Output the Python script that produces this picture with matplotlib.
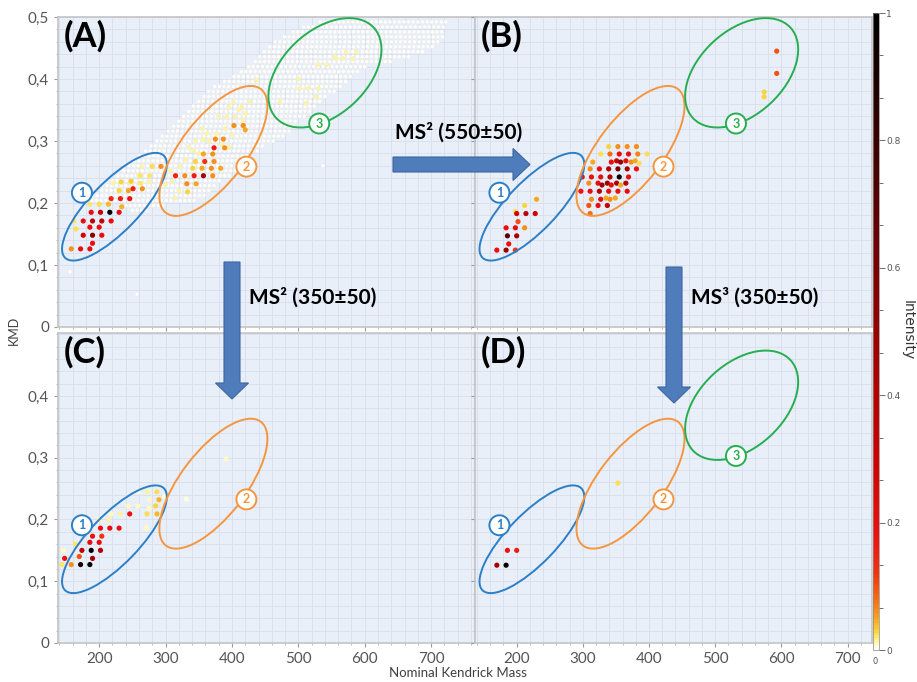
import numpy as np
import matplotlib
matplotlib.use("Agg")
import matplotlib.pyplot as plt
from matplotlib.colors import LinearSegmentedColormap
from matplotlib.patches import Ellipse, Circle, FancyArrow
from matplotlib.transforms import ScaledTranslation
from matplotlib.ticker import MultipleLocator, FixedLocator, FuncFormatter, AutoMinorLocator

# ---- data: (nominal Kendrick mass, KMD, intensity) ----

# panel A, white background cloud: rows of homologues (kmd, first mass, last mass), 7 Da apart
a_cloud_rows = [
    (0.188, 250, 277), (0.196, 240, 301), (0.204, 189, 345), (0.212, 197, 358),
    (0.220, 204, 368), (0.228, 212, 378), (0.236, 220, 387), (0.244, 228, 397),
    (0.252, 237, 406), (0.260, 245, 413), (0.268, 253, 421), (0.276, 261, 428),
    (0.284, 270, 438), (0.292, 278, 450), (0.300, 287, 467), (0.308, 295, 483),
    (0.316, 304, 489), (0.324, 312, 495), (0.332, 320, 500), (0.340, 327, 509),
    (0.348, 335, 518), (0.356, 342, 528), (0.364, 350, 537), (0.372, 358, 546),
    (0.380, 365, 556), (0.388, 374, 565), (0.396, 389, 575), (0.404, 403, 584),
    (0.412, 414, 594), (0.420, 425, 603), (0.428, 435, 640), (0.436, 442, 672),
    (0.444, 449, 687), (0.452, 457, 702), (0.460, 465, 714), (0.468, 479, 717),
    (0.476, 492, 721), (0.484, 508, 724), (0.492, 533, 728),
]
a_isolated = [(156, 0.089), (257, 0.053), (537, 0.260)]

a_pale = [
    (572, 0.444), (587, 0.444), (557, 0.433), (567, 0.433), (582, 0.433), (530, 0.423),
    (543, 0.423), (515, 0.385), (502, 0.385), (530, 0.385), (512, 0.361), (527, 0.371),
    (472, 0.363), (437, 0.398), (427, 0.363), (555, 0.436), (500, 0.400), (357, 0.302),
    (362, 0.312), (392, 0.339), (405, 0.339), (417, 0.334), (322, 0.259), (307, 0.253),
    (314, 0.208), (342, 0.285), (350, 0.280), (377, 0.312), (384, 0.294), (396, 0.290),
    (402, 0.363), (415, 0.355), (420, 0.345), (264, 0.259), (276, 0.234), (259, 0.245),
    (246, 0.232), (221, 0.232), (300, 0.230), (320, 0.220), (330, 0.270), (390, 0.320),
    (400, 0.310), (365, 0.300), (355, 0.320), (410, 0.350), (395, 0.355), (380, 0.340),
    (345, 0.300), (335, 0.290), (300, 0.245), (310, 0.235),
]

a_pts = [
    (158, 0.126, 0.06), (172, 0.126, 0.20), (186, 0.126, 0.20), (190, 0.135, 0.20),
    (176, 0.148, 0.30), (190, 0.148, 0.55), (204, 0.148, 0.20), (165, 0.158, 0.025),
    (186, 0.161, 0.20), (200, 0.161, 0.20), (162, 0.171, 0.02), (176, 0.171, 0.20),
    (190, 0.171, 0.35), (204, 0.171, 0.35), (218, 0.171, 0.20), (188, 0.185, 0.20),
    (202, 0.185, 0.35), (216, 0.185, 1.00), (230, 0.185, 0.20), (186, 0.198, 0.02),
    (200, 0.198, 0.025), (214, 0.198, 0.04), (234, 0.194, 0.045), (218, 0.207, 0.14),
    (232, 0.207, 0.16), (246, 0.207, 0.18), (230, 0.220, 0.03), (244, 0.220, 0.05),
    (251, 0.223, 0.16), (265, 0.223, 0.06), (233, 0.234, 0.03), (248, 0.235, 0.035),
    (262, 0.232, 0.02), (280, 0.259, 0.025), (293, 0.259, 0.06), (262, 0.244, 0.02),
    (276, 0.244, 0.02), (315, 0.244, 0.15), (329, 0.244, 0.06), (343, 0.244, 0.16),
    (357, 0.244, 0.45), (371, 0.244, 0.06), (332, 0.231, 0.06), (346, 0.231, 0.05),
    (333, 0.218, 0.03), (341, 0.256, 0.03), (355, 0.256, 0.05), (369, 0.256, 0.06),
    (383, 0.256, 0.05), (345, 0.267, 0.03), (359, 0.267, 0.12), (373, 0.267, 0.06),
    (357, 0.279, 0.05), (371, 0.279, 0.06), (373, 0.289, 0.16), (389, 0.289, 0.06),
    (375, 0.303, 0.06), (387, 0.303, 0.06), (403, 0.325, 0.06), (417, 0.325, 0.06),
    (420, 0.318, 0.05),
]

b_pts = [
    (170, 0.124, 0.20), (184, 0.124, 0.50), (198, 0.124, 0.12), (188, 0.134, 0.20),
    (186, 0.147, 0.70), (200, 0.147, 0.45), (184, 0.160, 0.20), (198, 0.160, 0.20),
    (212, 0.160, 0.06), (202, 0.170, 0.10), (198, 0.186, 0.025), (200, 0.183, 0.30),
    (214, 0.183, 0.35), (228, 0.183, 0.30), (212, 0.196, 0.03), (230, 0.206, 0.05),
    (339, 0.291, 0.03), (353, 0.291, 0.06), (367, 0.291, 0.06), (381, 0.291, 0.06),
    (327, 0.279, 0.025), (341, 0.279, 0.08), (355, 0.279, 0.20), (369, 0.279, 0.20),
    (383, 0.279, 0.07), (397, 0.279, 0.025), (315, 0.266, 0.05), (343, 0.266, 0.20),
    (351, 0.268, 0.30), (357, 0.266, 0.50), (365, 0.268, 0.20), (373, 0.266, 0.06),
    (379, 0.268, 0.05), (385, 0.264, 0.025), (311, 0.255, 0.06), (325, 0.255, 0.20),
    (339, 0.255, 0.40), (353, 0.255, 0.60), (367, 0.255, 0.45), (381, 0.255, 0.18),
    (299, 0.242, 0.18), (313, 0.242, 0.20), (327, 0.242, 0.20), (341, 0.242, 0.40),
    (355, 0.242, 1.00), (369, 0.242, 0.20), (309, 0.232, 0.06), (323, 0.232, 0.20),
    (329, 0.229, 0.45), (337, 0.232, 0.50), (343, 0.229, 0.20), (351, 0.232, 0.45),
    (357, 0.229, 0.05), (365, 0.232, 0.40), (297, 0.219, 0.18), (311, 0.219, 0.20),
    (325, 0.219, 0.40), (339, 0.219, 0.20), (353, 0.219, 0.20), (367, 0.219, 0.20),
    (313, 0.206, 0.06), (327, 0.206, 0.20), (335, 0.208, 0.05), (341, 0.206, 0.06),
    (349, 0.208, 0.05), (309, 0.196, 0.10), (323, 0.196, 0.20), (337, 0.196, 0.35),
    (311, 0.183, 0.08), (593, 0.445, 0.10), (593, 0.409, 0.10), (574, 0.379, 0.03),
    (574, 0.371, 0.03),
]

c_pts = [
    (144, 0.127, 0.02), (158, 0.127, 0.06), (172, 0.127, 0.90), (186, 0.127, 1.00),
    (148, 0.137, 0.18), (170, 0.140, 0.10), (190, 0.137, 0.45), (146, 0.150, 0.008),
    (174, 0.150, 0.35), (188, 0.150, 1.00), (202, 0.150, 0.40), (164, 0.160, 0.02),
    (186, 0.163, 0.20), (200, 0.163, 0.20), (190, 0.173, 0.18), (204, 0.173, 0.12),
    (202, 0.186, 0.18), (216, 0.186, 0.20), (230, 0.186, 0.20), (271, 0.186, 0.01),
    (200, 0.199, 0.015), (214, 0.199, 0.012), (218, 0.209, 0.008), (232, 0.209, 0.012),
    (246, 0.209, 0.18), (272, 0.209, 0.025), (287, 0.209, 0.04), (244, 0.222, 0.008),
    (258, 0.222, 0.01), (275, 0.218, 0.008), (285, 0.222, 0.03), (276, 0.232, 0.008),
    (290, 0.232, 0.045), (259, 0.245, 0.006), (273, 0.245, 0.015), (287, 0.245, 0.025),
    (298, 0.237, 0.006), (331, 0.233, 0.006), (391, 0.298, 0.008),
]

d_pts = [(186, 0.150, 0.18), (200, 0.150, 0.16), (170, 0.126, 0.45), (184, 0.126, 1.00),
         (353, 0.259, 0.025)]

# ellipse centres per panel (mass, kmd)
ell_top = [(223, 0.194), (372, 0.284), (540, 0.410)]
ell_bottom = [(223, 0.168), (372, 0.258), (540, 0.385)]
ell_colors = ["#2c7fc6", "#f5963f", "#26ae50"]
ell_shape = [(71, 24.6, 46), (78, 32.5, 52.5), (66.5, 42, 42.8)]   # semi-axes px, angle
badge_off = [(-32.5, 14), (33, -15.7), (-5.7, -50.7)]

cmap = LinearSegmentedColormap.from_list("inten", [
    (0.0, "#ffffff"), (0.006, "#fffbd0"), (0.015, "#fff08a"), (0.03, "#f9d030"),
    (0.05, "#f7a020"), (0.08, "#f56a10"), (0.12, "#f33010"), (0.18, "#ee1010"),
    (0.3, "#d00000"), (0.5, "#990000"), (0.7, "#5a0000"), (0.85, "#2a0000"), (1.0, "#000000")])

plt.rcParams["font.family"] = ["Lato", "DejaVu Sans"]

W, H = 917, 682
fig = plt.figure(figsize=(W / 100, H / 100), dpi=100)


def box(l, t, r, b):
    return [l / W, 1 - b / H, (r - l) / W, (b - t) / H]


axA = fig.add_axes(box(58, 17, 475, 327))
axB = fig.add_axes(box(475, 17, 872, 327))
axC = fig.add_axes(box(58, 333, 475, 643))
axD = fig.add_axes(box(475, 333, 872, 643))

kfmt = FuncFormatter(lambda v, p: "0" if abs(v) < 1e-9 else f"{v:.1f}".replace(".", ","))


def style(ax, xlim, ylim, yticks, xlab, ylab):
    ax.set_facecolor("#e9eff9")
    ax.set_xlim(*xlim)
    ax.set_ylim(*ylim)
    ax.xaxis.set_major_locator(MultipleLocator(100))
    ax.xaxis.set_minor_locator(MultipleLocator(20))
    ax.yaxis.set_major_locator(FixedLocator(yticks))
    ax.yaxis.set_minor_locator(MultipleLocator(0.02))
    ax.yaxis.set_major_formatter(kfmt)
    ax.set_axisbelow(True)
    ax.grid(True, which="both", color="#d7dfee", lw=0.6)
    for s in ax.spines.values():
        s.set_color("#c4c4c4")
        s.set_linewidth(1.2)
    ax.tick_params(which="major", length=3, color="#9a9a9a", labelsize=11,
                   labelcolor="#555555", labelbottom=xlab, labelleft=ylab)
    ax.tick_params(which="minor", length=1.5, color="#b0b0b0")


style(axA, (138, 766), (0, 0.5), [0, 0.1, 0.2, 0.3, 0.4, 0.5], False, True)
style(axB, (137, 737), (0, 0.5), [0, 0.1, 0.2, 0.3, 0.4, 0.5], False, False)
style(axC, (138, 766), (0, 0.502), [0, 0.1, 0.2, 0.3, 0.4], True, True)
style(axD, (137, 737), (0, 0.502), [0, 0.1, 0.2, 0.3, 0.4], True, False)

# background cloud in panel A
cx, cy = [], []
for k, lo, hi in a_cloud_rows:
    for m in range(lo, hi + 1, 7):
        cx.append(m)
        cy.append(k)
cx += [p[0] for p in a_isolated]
cy += [p[1] for p in a_isolated]
axA.scatter(cx, cy, s=8, c=[0.0] * len(cx), cmap=cmap, vmin=0, vmax=1,
            edgecolors="#e6e6e2", linewidths=0.25, zorder=2)
axA.scatter([p[0] for p in a_pale], [p[1] for p in a_pale], s=10,
            c=[0.012] * len(a_pale), cmap=cmap, vmin=0, vmax=1,
            edgecolors="#f0f0c8", linewidths=0.25, zorder=3)

sc = None
for ax, pts in [(axA, a_pts), (axB, b_pts), (axC, c_pts), (axD, d_pts)]:
    sc = ax.scatter([p[0] for p in pts], [p[1] for p in pts], c=[p[2] for p in pts],
                    s=14, cmap=cmap, vmin=0, vmax=1, linewidths=0, zorder=4)


def ellipses(ax, centres, n):
    for i in range(n):
        (mx, ky), col, (a, b, ang), (ox, oy) = centres[i], ell_colors[i], ell_shape[i], badge_off[i]
        tr = fig.dpi_scale_trans + ScaledTranslation(mx, ky, ax.transData)
        ax.add_patch(Ellipse((0, 0), 2 * a / 100, 2 * b / 100, angle=ang, transform=tr,
                             fill=False, ec=col, lw=1.4, zorder=5, clip_on=False))
        ax.add_patch(Circle((ox / 100, oy / 100), 0.1, transform=tr, fc="white", ec=col,
                            lw=1.4, zorder=6, clip_on=False))
        ax.text(ox / 100, oy / 100, str(i + 1), transform=tr, ha="center", va="center",
                fontsize=9, fontweight="bold", color=col, zorder=7)


ellipses(axA, ell_top, 3)
ellipses(axB, ell_top, 3)
ellipses(axC, ell_bottom, 2)
ellipses(axD, ell_bottom, 3)

for ax, lab in [(axA, "(A)"), (axB, "(B)"), (axC, "(C)"), (axD, "(D)")]:
    ax.text(0.014, 0.99, lab, transform=ax.transAxes, ha="left", va="top",
            fontsize=25, fontweight="bold", color="black", zorder=8)

# colorbar
cax = fig.add_axes(box(873, 13, 879, 650))
cb = fig.colorbar(sc, cax=cax)
cb.outline.set_edgecolor("#888888")
cb.outline.set_linewidth(0.5)
cb.set_ticks([0, 0.2, 0.4, 0.6, 0.8, 1])
cb.set_ticklabels(["0", "0.2", "0.4", "0.6", "0.8", "1"])
cax.yaxis.set_minor_locator(AutoMinorLocator(3))
cax.tick_params(which="major", length=4, width=0.6, color="#555555", labelsize=6.5,
                labelcolor="#555555", pad=1)
cax.tick_params(which="minor", length=3, width=0.6, color="#555555")
for t in cax.get_yticklabels():
    t.set_family("DejaVu Sans")

# overlay in pixel units for arrows and free text
ov = fig.add_axes([0, 0, 1, 1], zorder=20)
ov.set_xlim(0, W)
ov.set_ylim(H, 0)
ov.axis("off")
ov.patch.set_alpha(0)

arr = dict(fc="#4f7cbb", ec="#3d659e", lw=0.8, length_includes_head=True)
ov.add_patch(FancyArrow(232, 262, 0, 137, width=16, head_width=33, head_length=16, **arr))
ov.add_patch(FancyArrow(393, 164.5, 137, 0, width=15, head_width=32, head_length=17, **arr))
ov.add_patch(FancyArrow(674, 267, 0, 136, width=16, head_width=33, head_length=16, **arr))

lab_kw = dict(fontsize=15, fontweight="bold", color="black", va="center", ha="left")
ov.text(395, 132, "MS² (550±50)", **lab_kw)
ov.text(249, 297, "MS² (350±50)", **lab_kw)
ov.text(691, 297, "MS³ (350±50)", **lab_kw)

ov.text(458, 673, "Nominal Kendrick Mass", ha="center", va="center", fontsize=9.5, color="#404040")
ov.text(14, 330, "KMD", ha="center", va="center", rotation=90, fontsize=9, color="#404040")
ov.text(908, 330, "Intensity", ha="center", va="center", rotation=270, fontsize=10, color="#333333",
        family="DejaVu Sans")
ov.text(875, 661, "0", ha="center", va="center", fontsize=6, color="#555555", family="DejaVu Sans")

fig.savefig("out.png", dpi=100, facecolor="white")
